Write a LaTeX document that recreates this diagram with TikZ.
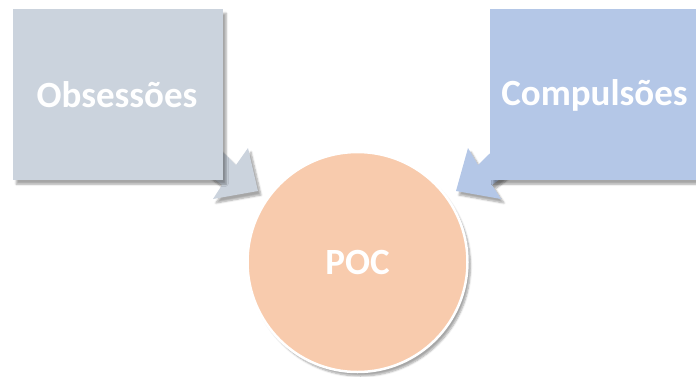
\documentclass[tikz,border=0pt]{standalone}
\usepackage{fontspec}
\setmainfont{Carlito}
\usetikzlibrary{shadows.blur}
\definecolor{obsc}{RGB}{203,211,221}
\definecolor{compc}{RGB}{180,199,231}
\definecolor{pocc}{RGB}{248,203,173}
\tikzset{
  lbl/.style={text=white,font=\bfseries\fontsize{37}{40}\selectfont},
  shad/.style={blur shadow={shadow xshift=3pt,shadow yshift=-4pt,shadow opacity=35,shadow blur steps=6}},
  boxst/.style={shad,draw=none,minimum width=210pt,minimum height=171pt,inner sep=0pt},
}
\begin{document}
\begin{tikzpicture}[x=1pt,y=-1pt]
\useasboundingbox (0,0) rectangle (696,376);
% block arrows (behind boxes)
\fill[obsc,shad] (175,150) -- (222,185) -- (213,199) -- (258,191) -- (248,148) -- (236,165) -- (190,120) -- cycle;
\fill[compc,shad] (539,150) -- (492,185) -- (501,199) -- (456,191) -- (468,148) -- (478,165) -- (524,120) -- cycle;
% boxes
\node[boxst,fill=obsc,anchor=north west] (obs) at (13,9) {};
\node[lbl] (obst) at (117,95) {Obsessões};
\node[boxst,fill=compc,anchor=north west,minimum width=206pt] (comp) at (490,9) {};
\node[lbl] (compt) at (594.5,95) {Compulsões};
% circle
\node[circle,fill=pocc,draw=white,line width=2.5pt,minimum size=220pt,shad,lbl] (poc) at (357.5,262) {POC};
\end{tikzpicture}
\end{document}
